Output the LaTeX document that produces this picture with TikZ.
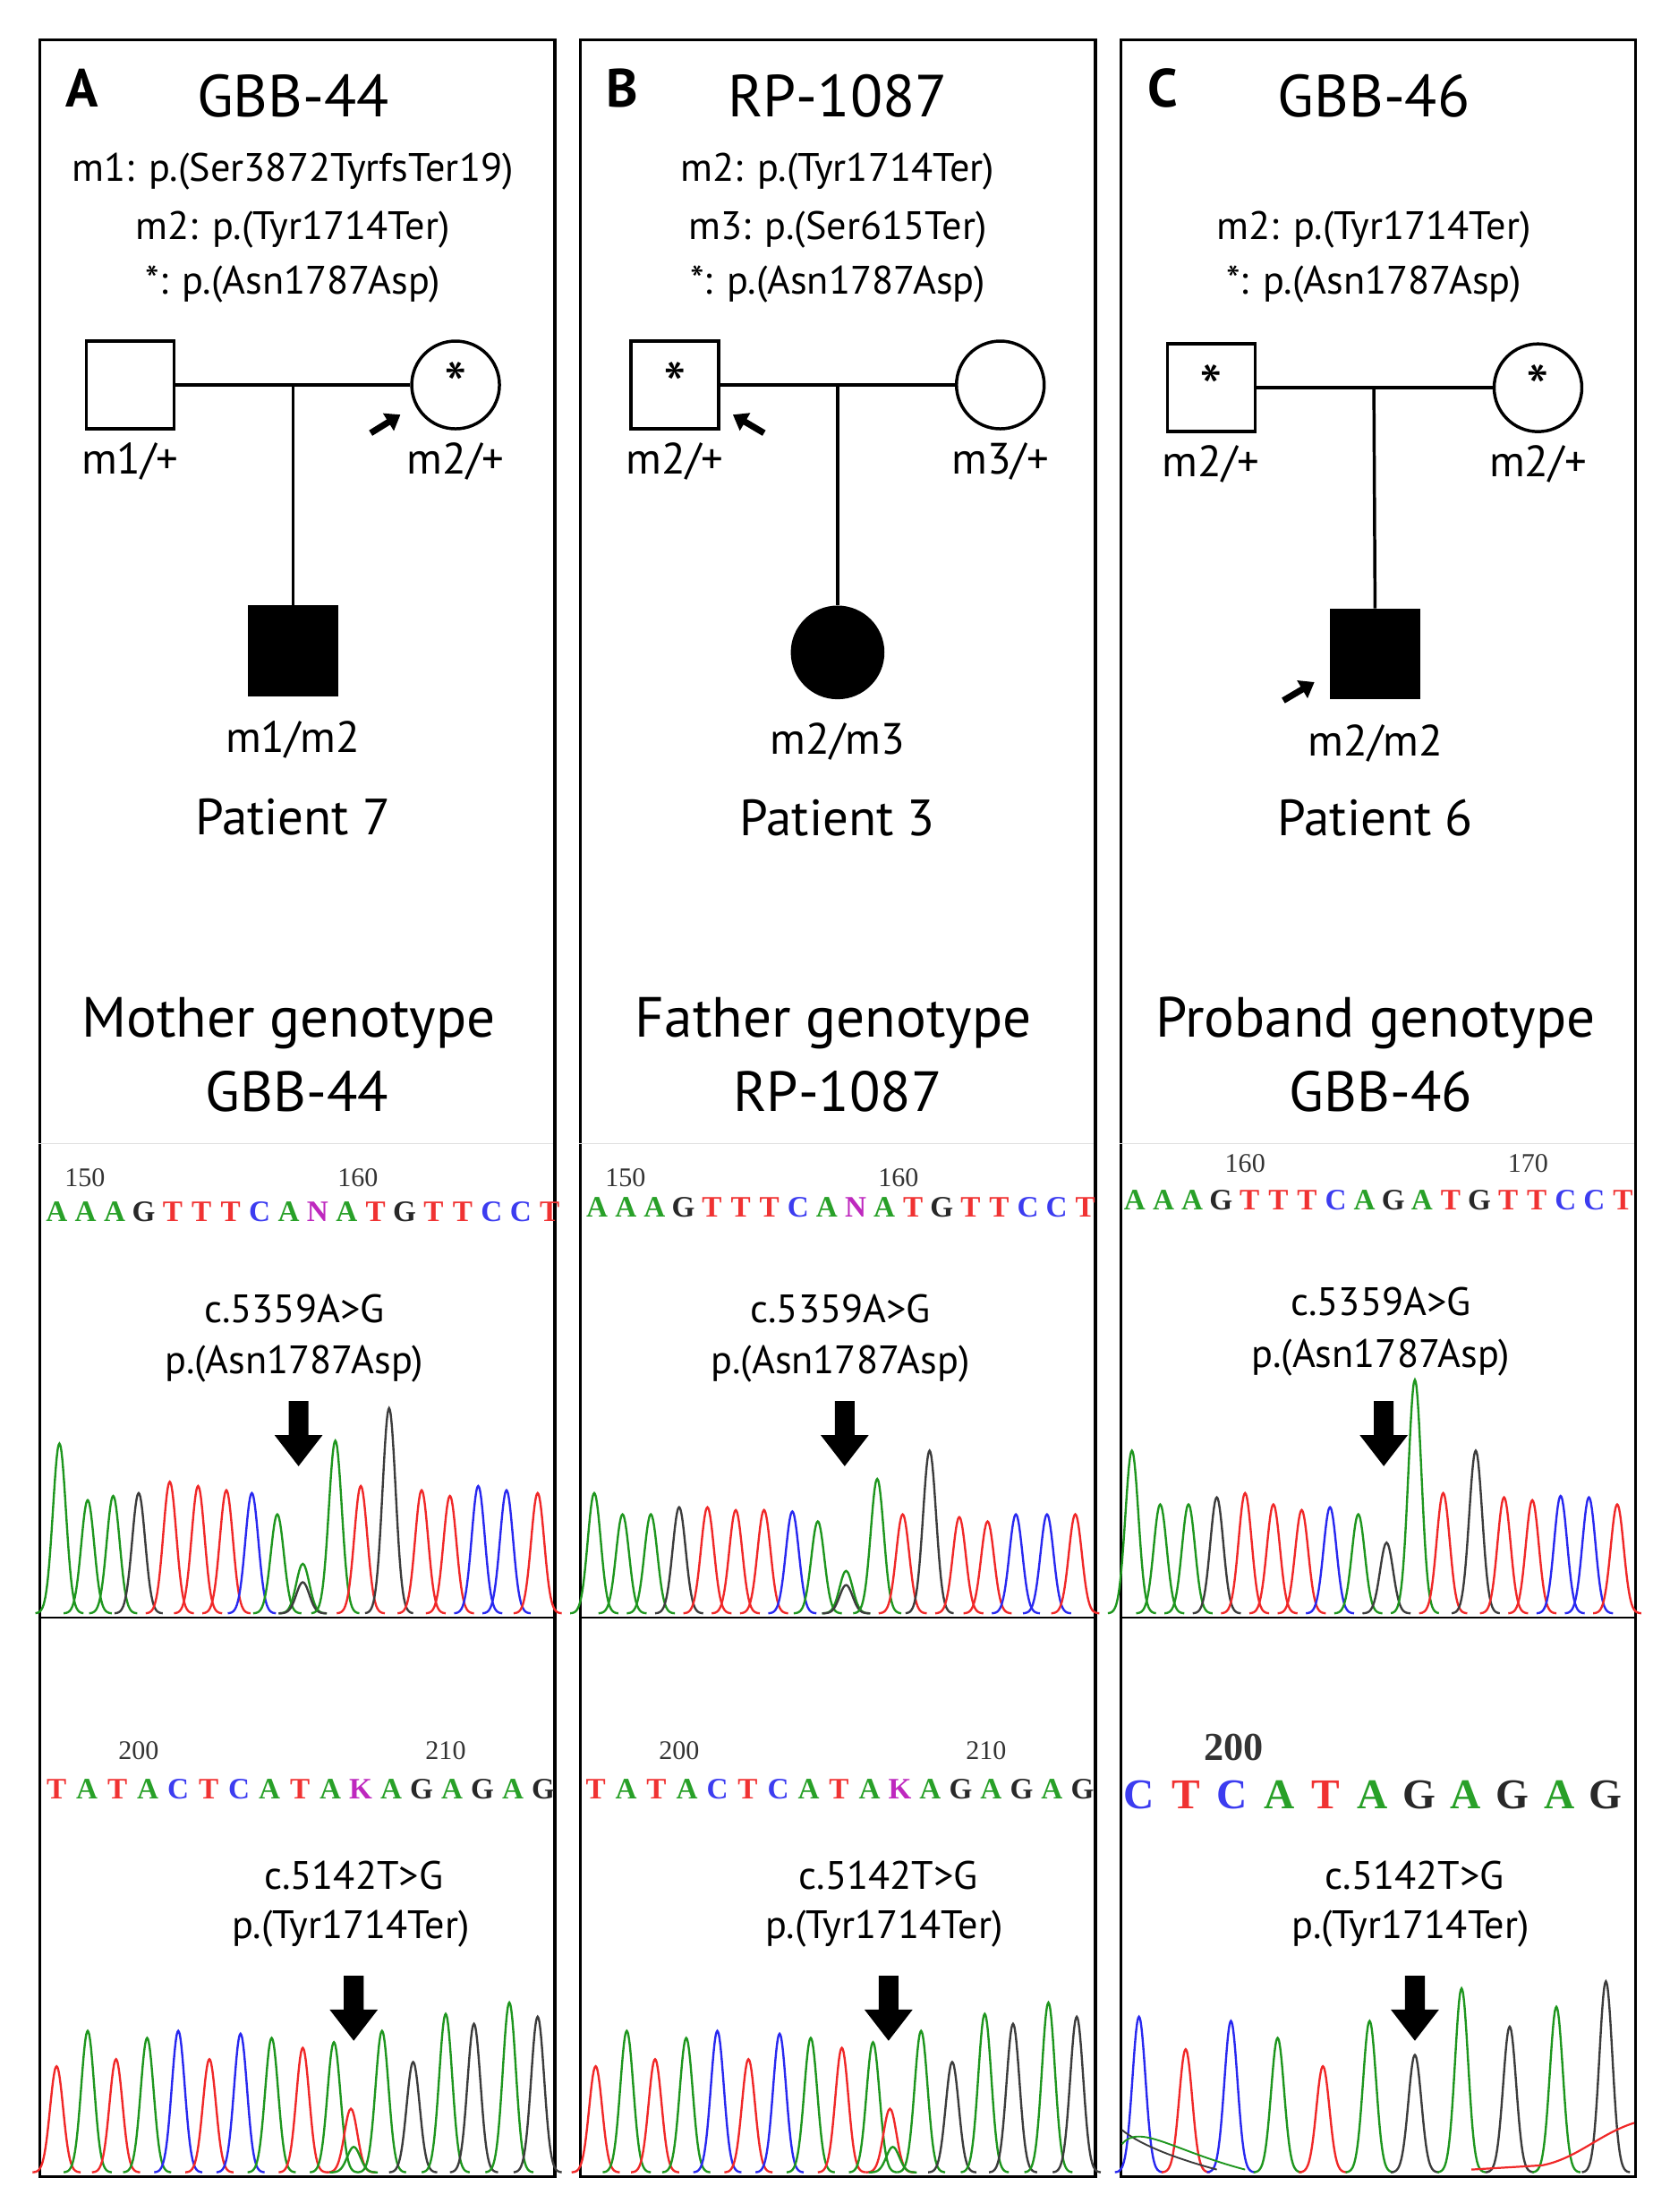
\documentclass[tikz,border=0pt]{standalone}
\usepackage{fontspec}
\setmainfont{PT Sans}
\usetikzlibrary{arrows.meta}
\definecolor{seqA}{RGB}{40,160,40}
\definecolor{seqT}{RGB}{240,50,50}
\definecolor{seqC}{RGB}{60,60,240}
\definecolor{seqG}{RGB}{40,40,40}
\definecolor{seqN}{RGB}{190,40,190}
\definecolor{seqK}{RGB}{190,40,190}
\definecolor{pg}{RGB}{30,150,30}
\definecolor{pr}{RGB}{240,40,40}
\definecolor{pb}{RGB}{40,40,240}
\definecolor{pk}{RGB}{60,60,60}
\newcommand{\fs}[1]{\fontsize{#1}{#1}\selectfont}
\newcommand{\myseq}[6]{% x0, dx, y, size, list
 \foreach \l [count=\i from 0] in {#5} {\node[text=seq\l,font=\fs{#4}\bfseries\fontspec{Liberation Serif},inner sep=0pt] (#6\i) at ({#1+#2*\i},#3) {\l};}}
\newcommand{\mypeaks}[2]{%
 \foreach \px/\ph/\pc in {#2} {\draw[\pc,line width=1.5pt] plot[variable=\t,domain={\px-17}:{\px+17},samples=35,smooth] (\t,{#1-\ph*exp(-((\t-\px)/6.5)^2)});}}
\newcommand{\bigarrow}[3]{% x, ytop, name
 \fill (#1-7,#2) -- (#1+7,#2) -- (#1+7,#2+24) -- (#1+17,#2+24) -- (#1,#2+46) -- (#1-17,#2+24) -- (#1-7,#2+24) -- cycle;
 \coordinate (#3) at (#1,#2);}
\tikzset{
 panel/.style={draw,line width=2.2pt},
 ttl/.style={font=\fs{42}},
 mut/.style={font=\fs{28}},
 lab/.style={font=\fs{31}},
 big/.style={font=\fs{40}},
 pat/.style={font=\fs{36}},
 num/.style={font=\fs{19}\fontspec{Liberation Serif},text=black!80},
 male/.style={draw,line width=2.2pt,minimum size=62pt,inner sep=0pt,font=\fs{46}},
 female/.style={draw,circle,line width=2.2pt,minimum size=62pt,inner sep=0pt,font=\fs{46}},
 ln/.style={line width=2.2pt},
 parr/.style={line width=4.5pt,-{Triangle[length=10pt,width=14pt]}},
}
\begin{document}
\begin{tikzpicture}[x=1pt,y=-1pt]
\useasboundingbox (0,0) rectangle (1180,1563);
% panels
\node[panel,minimum width=364pt,minimum height=1510pt,anchor=north west,inner sep=0pt] (PA) at (27,27) {};
\node[panel,minimum width=364pt,minimum height=1510pt,anchor=north west,inner sep=0pt] (PB) at (409,27) {};
\node[panel,minimum width=364pt,minimum height=1510pt,anchor=north west,inner sep=0pt] (PC) at (791,27) {};
\foreach \x in {27,409,791} {\draw[line width=1.6pt] (\x,1143) -- (\x+364,1143); \draw[black!12] (\x,808)--(\x+364,808);}
% ===== A
\node[font=\fs{38}\bfseries] (LA) at (58,62) {A};
\node[ttl] (TA) at (207,68) {GBB-44};
\node[mut] (mA1) at (207,121) {m1: p.(Ser3872TyrfsTer19)};
\node[mut] (mA2) at (207,162) {m2: p.(Tyr1714Ter)};
\node[mut] (mA3) at (207,201) {*: p.(Asn1787Asp)};
\node[male] (fA) at (92,272) {};
\node[female] (mA) at (322,272) {*};
\coordinate (jA) at (207,272);
\node[male,fill=black] (cA) at (207,460) {};
\draw[ln] (fA) -- (mA); \draw[ln] (jA) -- (cA);
\coordinate (aA0) at (262,306); \coordinate (aA1) at (283,293);
\draw[parr] (aA0) -- (aA1);
\node[lab] (gA1) at (92,326) {m1/+};
\node[lab] (gA2) at (322,326) {m2/+};
\node[lab] (gA3) at (207,523) {m1/m2};
\node[pat] (pA) at (207,577) {Patient 7};
\node[big] (GA1) at (204,723) {Mother genotype};
\node[big] (GA2) at (210,771) {GBB-44};
\node[num] (nA1) at (60,832) {150}; \node[num] (nA2) at (253,832) {160};
\myseq{40}{20.5}{856}{21}{A,A,A,G,T,T,T,C,A,N,A,T,G,T,T,C,C,T}{sA}
\node[mut] (cA1) at (208,925) {c.5359A>G};
\node[mut] (cA1b) at (208,964) {p.(Asn1787Asp)};
\bigarrow{211}{990}{arA1}
\mypeaks{1140}{42/120/pg,62/80/pg,80/83/pg,98/85/pk,120/93/pr,140/90/pr,160/87/pr,178/85/pb,196/70/pg,214/35/pg,214/22/pk,237/122/pg,255/90/pr,275/145/pk,298/87/pr,318/83/pr,338/90/pb,358/87/pb,380/85/pr}
\node[num] (nA3) at (98,1237) {200}; \node[num] (nA4) at (315,1237) {210};
\myseq{40}{21.5}{1264}{21}{T,A,T,A,C,T,C,A,T,A,K,A,G,A,G,A,G}{tA}
\node[mut] (cA2) at (250,1325) {c.5142T>G};
\node[mut] (cA2b) at (248,1363) {p.(Tyr1714Ter)};
\bigarrow{250}{1396}{arA2}
\mypeaks{1535}{40/75/pr,62/100/pg,82/80/pr,104/95/pg,126/100/pb,148/80/pr,170/98/pb,192/95/pg,214/88/pr,236/92/pg,248/45/pr,250/18/pg,270/100/pg,292/78/pk,315/112/pg,335/105/pk,360/120/pg,380/110/pk}
% ===== B
\node[font=\fs{38}\bfseries] (LB) at (440,62) {B};
\node[ttl] (TB) at (592,68) {RP-1087};
\node[mut] (mB1) at (592,121) {m2: p.(Tyr1714Ter)};
\node[mut] (mB2) at (592,162) {m3: p.(Ser615Ter)};
\node[mut] (mB3) at (592,201) {*: p.(Asn1787Asp)};
\node[male] (fB) at (477,272) {*};
\node[female] (mB) at (707,272) {};
\coordinate (jB) at (592,272);
\node[female,fill=black,minimum size=64pt] (cB) at (592,461) {};
\draw[ln] (fB) -- (mB); \draw[ln] (jB) -- (cB);
\coordinate (aB0) at (540,306); \coordinate (aB1) at (518,293);
\draw[parr] (aB0) -- (aB1);
\node[lab] (gB1) at (477,326) {m2/+};
\node[lab] (gB2) at (707,326) {m3/+};
\node[lab] (gB3) at (592,524) {m2/m3};
\node[pat] (pB) at (592,578) {Patient 3};
\node[big] (GB1) at (589,723) {Father genotype};
\node[big] (GB2) at (592,771) {RP-1087};
\node[num] (nB1) at (442,832) {150}; \node[num] (nB2) at (635,832) {160};
\myseq{422}{20.3}{853}{21}{A,A,A,G,T,T,T,C,A,N,A,T,G,T,T,C,C,T}{sB}
\node[mut] (cB1) at (594,925) {c.5359A>G};
\node[mut] (cB1b) at (594,964) {p.(Asn1787Asp)};
\bigarrow{597}{990}{arB1}
\mypeaks{1140}{420/85/pg,440/70/pg,460/70/pg,480/75/pk,500/75/pr,520/73/pr,540/73/pr,560/72/pb,578/65/pg,598/30/pg,598/20/pk,620/95/pg,638/70/pr,657/115/pk,678/68/pr,698/65/pr,718/70/pb,740/70/pb,760/70/pr}
\node[num] (nB3) at (480,1237) {200}; \node[num] (nB4) at (697,1237) {210};
\myseq{421}{21.5}{1264}{21}{T,A,T,A,C,T,C,A,T,A,K,A,G,A,G,A,G}{tB}
\node[mut] (cB2) at (628,1325) {c.5142T>G};
\node[mut] (cB2b) at (625,1363) {p.(Tyr1714Ter)};
\bigarrow{628}{1396}{arB2}
\mypeaks{1535}{421/75/pr,443/100/pg,463/80/pr,485/95/pg,507/100/pb,529/80/pr,551/98/pb,573/95/pg,595/88/pr,617/92/pg,629/45/pr,631/18/pg,651/100/pg,673/78/pk,696/112/pg,716/105/pk,741/120/pg,761/110/pk}
% ===== C
\node[font=\fs{38}\bfseries] (LC) at (822,62) {C};
\node[ttl] (TC) at (971,68) {GBB-46};
\node[mut] (mC1) at (971,162) {m2: p.(Tyr1714Ter)};
\node[mut] (mC2) at (971,201) {*: p.(Asn1787Asp)};
\node[male] (fC) at (856,274) {*};
\node[female] (mC) at (1087,274) {*};
\coordinate (jC) at (971,274);
\node[male,fill=black] (cC) at (972,462) {};
\draw[ln] (fC) -- (mC); \draw[ln] (jC) -- (cC);
\coordinate (aC0) at (907,495); \coordinate (aC1) at (929,482);
\draw[parr] (aC0) -- (aC1);
\node[lab] (gC1) at (856,328) {m2/+};
\node[lab] (gC2) at (1087,328) {m2/+};
\node[lab] (gC3) at (972,525) {m2/m2};
\node[pat] (pC) at (972,578) {Patient 6};
\node[big] (GC1) at (972,723) {Proband genotype};
\node[big] (GC2) at (976,771) {GBB-46};
\node[num] (nC1) at (880,822) {160}; \node[num] (nC2) at (1080,822) {170};
\myseq{802}{20.3}{848}{21}{A,A,A,G,T,T,T,C,A,G,A,T,G,T,T,C,C,T}{sC}
\node[mut] (cC1) at (976,920) {c.5359A>G};
\node[mut] (cC1b) at (976,959) {p.(Asn1787Asp)};
\bigarrow{978}{990}{arC1}
\mypeaks{1140}{800/115/pg,820/77/pg,840/77/pg,860/82/pk,880/85/pr,900/77/pr,920/73/pr,940/75/pb,960/70/pg,980/50/pk,1000/165/pg,1020/85/pr,1043/115/pk,1063/82/pr,1083/80/pr,1103/83/pb,1123/82/pb,1143/77/pr}
\node[num,font=\fs{28}\bfseries\fontspec{Liberation Serif}] (nC3) at (872,1235) {200};
\myseq{805}{33}{1268}{30}{C,T,C,A,T,A,G,A,G,A,G}{tC}
\node[mut] (cC2) at (1000,1325) {c.5142T>G};
\node[mut] (cC2b) at (997,1363) {p.(Tyr1714Ter)};
\bigarrow{1000}{1396}{arC2}
\mypeaks{1535}{805/110/pb,838/87/pr,870/107/pb,903/95/pg,935/75/pr,968/107/pg,1000/83/pk,1033/130/pg,1067/103/pk,1100/117/pg,1135/135/pk}
\draw[pr,line width=1.4pt] (1040,1533) -- (1090,1530) .. controls (1115,1525) and (1130,1508) .. (1155,1500);
\draw[pk,line width=1.2pt] (793,1505) .. controls (805,1515) and (830,1525) .. (860,1533);
\draw[pg,line width=1.2pt] (793,1515) .. controls (805,1500) and (830,1520) .. (880,1533);
\end{tikzpicture}
\end{document}
